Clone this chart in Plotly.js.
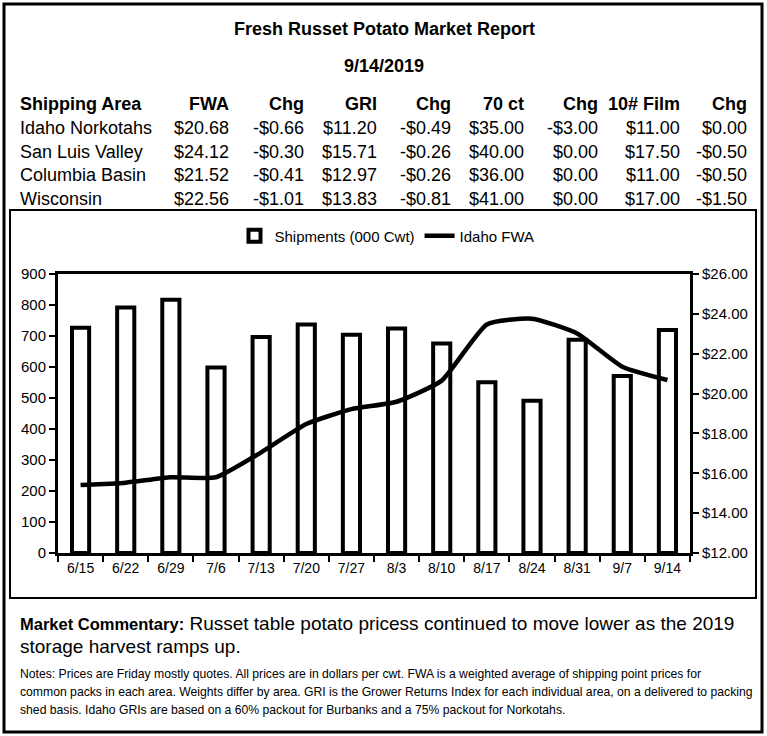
<!DOCTYPE html>
<html>
<head>
<meta charset="utf-8">
<script src="https://cdn.plot.ly/plotly-3.0.1.min.js"></script>
<style>
  html, body { margin: 0; padding: 0; background: #ffffff; }
  #chart { width: 767px; height: 736px; }
</style>
</head>
<body>
<div id="chart"></div>
<script>
// ---------- DATA ----------
const weeks = ["6/15","6/22","6/29","7/6","7/13","7/20","7/27","8/3","8/10","8/17","8/24","8/31","9/7","9/14"];
const shipments = [727, 792, 817, 598, 697, 737, 704, 724, 676, 551, 491, 688, 571, 719];
const idahoFWA = [15.41, 15.53, 15.80, 15.80, 17.05, 18.47, 19.22, 19.59, 20.65, 23.47, 23.76, 23.02, 21.35, 20.68];

const tableHeaders = ["Shipping Area","FWA","Chg","GRI","Chg","70 ct","Chg","10# Film","Chg"];
const areas = ["Idaho Norkotahs","San Luis Valley","Columbia Basin","Wisconsin"];
const fwa = [20.68, 24.12, 21.52, 22.56];
const fwaChg = [-0.66, -0.30, -0.41, -1.01];
const gri = [11.20, 15.71, 12.97, 13.83];
const griChg = [-0.49, -0.26, -0.26, -0.81];
const ct70 = [35.00, 40.00, 36.00, 41.00];
const ct70Chg = [-3.00, 0.00, 0.00, 0.00];
const film10 = [11.00, 17.50, 11.00, 17.00];
const film10Chg = [0.00, -0.50, -0.50, -1.50];

const reportTitle = "Fresh Russet Potato Market Report";
const reportDate = "9/14/2019";
const commentaryLabel = "Market Commentary:";
const commentaryLines = [" Russet table potato pricess continued to move lower as the 2019", "storage harvest ramps up."];
const notesLines = [
  "Notes: Prices are Friday mostly quotes. All prices are in dollars per cwt. FWA is a weighted average of shipping point prices for",
  "common packs in each area. Weights differ by area. GRI is the Grower Returns Index for each individual area, on a delivered to packing",
  "shed basis. Idaho GRIs are based on a 60% packout for Burbanks and a 75% packout for Norkotahs."
];

// ---------- LAYOUT HELPERS ----------
const W = 767, H = 736;
const PL = 58, PR = 690, PT = 274, PB = 553;
const px = x => (x - PL) / (PR - PL);
const py = y => (PB - y) / (PB - PT);
const FONT = "Liberation Sans, Arial, sans-serif";

function money(v) {
  return (v < 0 ? "-" : "") + "$" + Math.abs(v).toFixed(2);
}

const annotations = [];
function txt(text, x, y, opts) {
  annotations.push(Object.assign({
    text: text, xref: "paper", yref: "paper", x: px(x), y: py(y),
    xanchor: "left", yanchor: "middle", showarrow: false,
    borderpad: 0, borderwidth: 0,
    font: {family: FONT, size: 18, color: "#000"}
  }, opts || {}));
}

// Title and date
txt("<b>" + reportTitle + "</b>", 384, 29, {xanchor: "center"});
txt("<b>" + reportDate + "</b>", 384, 66, {xanchor: "center"});

// Table
const colRight = [null, 229, 304, 377, 451, 524, 598, 680, 747];
const rowY = [104, 128, 152, 175, 199];
tableHeaders.forEach((h, i) => {
  if (i === 0) txt("<b>" + h + "</b>", 20, rowY[0]);
  else txt("<b>" + h + "</b>", colRight[i], rowY[0], {xanchor: "right"});
});
areas.forEach((a, r) => {
  const vals = [fwa[r], fwaChg[r], gri[r], griChg[r], ct70[r], ct70Chg[r], film10[r], film10Chg[r]];
  txt(a, 20, rowY[r + 1]);
  vals.forEach((v, c) => txt(money(v), colRight[c + 1], rowY[r + 1], {xanchor: "right"}));
});

// Commentary
txt("<span style='font-size:16.5px'><b>" + commentaryLabel + "</b></span>" + commentaryLines[0], 20, 623,
    {font: {family: FONT, size: 19, color: "#000"}});
txt(commentaryLines[1], 20, 646, {font: {family: FONT, size: 19, color: "#000"}});
notesLines.forEach((l, i) => txt(l, 20, 674 + i * 18, {font: {family: FONT, size: 12.2, color: "#000"}}));

// Frames
const shapes = [
  {type: "rect", xref: "paper", yref: "paper", x0: px(4), x1: px(762), y0: py(4), y1: py(732),
   line: {color: "#000", width: 3}, fillcolor: "rgba(0,0,0,0)", layer: "below"},
  {type: "rect", xref: "paper", yref: "paper", x0: px(10), x1: px(756), y0: py(210), y1: py(598),
   line: {color: "#000", width: 2}, fillcolor: "rgba(0,0,0,0)", layer: "below"}
];

// ---------- TRACES ----------
const traces = [
  {
    type: "bar", name: "Shipments (000 Cwt)", x: weeks, y: shipments,
    width: 0.38,
    marker: {color: "#ffffff", line: {color: "#000000", width: 4}},
    yaxis: "y", cliponaxis: false
  },
  {
    type: "scatter", mode: "lines", name: "Idaho FWA", x: weeks, y: idahoFWA,
    line: {color: "#000000", width: 4.5, shape: "spline", smoothing: 0.5},
    yaxis: "y2"
  }
];

const layout = {
  width: W, height: H,
  margin: {l: PL, r: W - PR, t: PT, b: H - PB, pad: 0},
  paper_bgcolor: "#ffffff", plot_bgcolor: "#ffffff",
  font: {family: FONT, color: "#000"},
  showlegend: true,
  legend: {orientation: "h", x: px(387), xanchor: "center", y: py(236), yanchor: "middle",
           font: {family: FONT, size: 15, color: "#000"}, bgcolor: "rgba(0,0,0,0)", itemwidth: 30,
           traceorder: "normal"},
  xaxis: {
    type: "category", showline: true, linecolor: "#000", linewidth: 3, mirror: true,
    ticks: "outside", tickson: "boundaries", ticklen: 6, tickwidth: 2, tickcolor: "#000",
    showgrid: false, zeroline: false, tickfont: {family: FONT, size: 14, color: "#000"}, fixedrange: true
  },
  yaxis: {
    range: [0, 900], dtick: 100, showline: true, linecolor: "#000", linewidth: 3,
    ticks: "outside", ticklen: 6, tickwidth: 2, tickcolor: "#000",
    showgrid: false, zeroline: false, tickfont: {family: FONT, size: 15, color: "#000"}
  },
  yaxis2: {
    range: [12, 26], dtick: 2, tickformat: "$.2f", overlaying: "y", side: "right",
    showline: true, linecolor: "#000", linewidth: 3,
    ticks: "outside", ticklen: 6, tickwidth: 2, tickcolor: "#000",
    showgrid: false, zeroline: false, tickfont: {family: FONT, size: 15, color: "#000"}
  },
  bargap: 0.62,
  annotations: annotations,
  shapes: shapes
};

Plotly.newPlot("chart", traces, layout, {displayModeBar: false, staticPlot: true});
</script>
</body>
</html>
